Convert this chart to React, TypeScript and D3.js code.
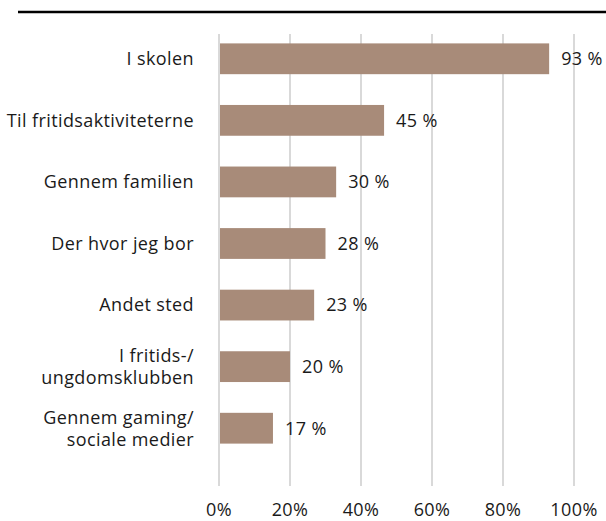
import React from 'react';
import * as d3 from 'd3';

// categories (top to bottom), each entry split into lines
const categories = [
  ['I skolen'],
  ['Til fritidsaktiviteterne'],
  ['Gennem familien'],
  ['Der hvor jeg bor'],
  ['Andet sted'],
  ['I fritids-/', 'ungdomsklubben'],
  ['Gennem gaming/', 'sociale medier'],
];
// bar lengths as drawn in the picture (percent)
const barValues = [93, 46.5, 33, 30, 26.8, 20, 15.2];
// data labels as printed next to the bars
const valueLabels = ['93 %', '45 %', '30 %', '28 %', '23 %', '20 %', '17 %'];
const xTicks = [0, 20, 40, 60, 80, 100];

const W = 606;
const H = 521;
const FONT = '"Open Sans", sans-serif';
const FS = 18;

const App = () => {
  const x = d3.scaleLinear().domain([0, 100]).range([219, 574]);
  const y = d3
    .scaleBand<number>()
    .domain(d3.range(categories.length))
    .range([28, 459])
    .paddingInner(0.5)
    .paddingOuter(0.25);

  const gridTop = 34;
  const gridBottom = 486;
  const lineH = 22;

  return (
    <svg width={W} height={H} style={{ position: 'absolute', left: 0, top: 0 }} fontFamily={FONT} letterSpacing={0.4}>
      {/* top rule */}
      <line x1={18} x2={W} y1={12} y2={12} stroke="#000" strokeWidth={2.5} />

      {/* vertical grid */}
      {xTicks.map(t => (
        <line key={t} x1={x(t)} x2={x(t)} y1={gridTop} y2={gridBottom} stroke="#d9d9d9" strokeWidth={2} />
      ))}

      {/* bars */}
      {barValues.map((v, i) => (
        <rect key={i} x={x(0) + 1} y={y(i)} width={x(v) - x(0) - 1} height={y.bandwidth()} fill="#a88b79" />
      ))}

      {/* value labels */}
      {barValues.map((v, i) => (
        <text key={i} x={x(v) + 12} y={(y(i) as number) + y.bandwidth() / 2} dy="0.35em" fontSize={FS} fill="#1a1a1a">
          {valueLabels[i]}
        </text>
      ))}

      {/* category labels */}
      {categories.map((lines, i) => {
        const cy = (y(i) as number) + y.bandwidth() / 2;
        const first = cy - ((lines.length - 1) * lineH) / 2;
        return (
          <text key={i} x={194} textAnchor="end" fontSize={FS} fill="#1a1a1a">
            {lines.map((l, j) => (
              <tspan key={j} x={194} y={first + j * lineH} dy="0.35em">{l}</tspan>
            ))}
          </text>
        );
      })}

      {/* x axis labels */}
      {xTicks.map(t => (
        <text key={t} x={x(t)} y={516} textAnchor="middle" fontSize={FS} fill="#1a1a1a">
          {t + '%'}
        </text>
      ))}
    </svg>
  );
};

export default App;
